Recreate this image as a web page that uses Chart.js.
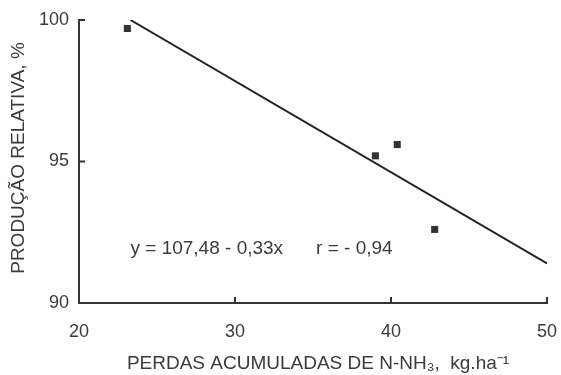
<!DOCTYPE html>
<html>
<head>
<meta charset="utf-8">
<script src="https://cdn.jsdelivr.net/npm/chart.js@4/dist/chart.umd.min.js"></script>
<style>
  html, body { margin: 0; padding: 0; background: #fff; }
  canvas { display: block; }
</style>
</head>
<body>
<canvas id="grafico" width="561" height="375"></canvas>
<script>
// Dados
const perdas = [23.1, 39.0, 40.4, 42.8];
const producao = [99.7, 95.2, 95.6, 92.6];
// reta de regressão (extremos)
const retaX = [23.3, 50];
const retaY = [100, 91.4];
const ticksX = [20, 30, 40, 50];
const ticksY = [90, 95, 100];
const equacao = 'y = 107,48 - 0,33x';
const correlacao = 'r = - 0,94';
const tituloX = 'PERDAS ACUMULADAS DE N-NH₃,  kg.ha⁻¹';
const tituloY = 'PRODUÇÃO RELATIVA, %';

const corTexto = '#3a3a3a';
const fonte = 'Liberation Sans, Arial, sans-serif';

// Marcas dos eixos voltadas para dentro + títulos + equação
const extras = {
  id: 'extras',
  afterDraw(chart) {
    const c = chart.ctx;
    const x = chart.scales.x, y = chart.scales.y;
    c.save();
    c.strokeStyle = '#333';
    c.lineWidth = 2;
    ticksX.forEach(v => {
      const px = x.getPixelForValue(v);
      c.beginPath(); c.moveTo(px, y.bottom); c.lineTo(px, y.bottom - 6); c.stroke();
    });
    ticksY.forEach(v => {
      const py = y.getPixelForValue(v);
      c.beginPath(); c.moveTo(x.left, py); c.lineTo(x.left + 6, py); c.stroke();
    });
    c.fillStyle = corTexto;
    c.textBaseline = 'middle';
    c.font = '19px ' + fonte;
    c.textAlign = 'left';
    c.fillText(equacao, x.getPixelForValue(23.3), y.getPixelForValue(91.9));
    c.fillText(correlacao, x.getPixelForValue(35.2), y.getPixelForValue(91.9));

    c.textAlign = 'center';
    c.fillText(tituloX, 318, 364);
    c.translate(19, 158);
    c.rotate(-Math.PI / 2);
    c.fillText(tituloY, 0, 0);
    c.restore();
  }
};

const ctx = document.getElementById('grafico').getContext('2d');
new Chart(ctx, {
  type: 'scatter',
  data: {
    datasets: [
      {
        data: perdas.map((v, i) => ({ x: v, y: producao[i] })),
        pointStyle: 'rect',
        pointRadius: 5,
        backgroundColor: '#333',
        borderColor: '#333',
        borderWidth: 0
      },
      {
        type: 'line',
        data: retaX.map((v, i) => ({ x: v, y: retaY[i] })),
        borderColor: '#222',
        borderWidth: 2,
        pointRadius: 0,
        fill: false
      }
    ]
  },
  options: {
    responsive: false,
    animation: false,
    layout: { padding: { top: 20, right: 14, left: 0, bottom: 0 } },
    plugins: { legend: { display: false }, tooltip: { enabled: false } },
    scales: {
      x: {
        type: 'linear',
        min: 20, max: 50,
        afterBuildTicks: s => { s.ticks = ticksX.map(v => ({ value: v })); },
        afterFit: s => { s.height = 72; s.paddingLeft = 0; s.paddingRight = 0; },
        grid: { display: false },
        border: { display: true, color: '#333', width: 2 },
        ticks: { color: corTexto, font: { family: fonte, size: 18 }, padding: 10 }
      },
      y: {
        min: 90, max: 100,
        afterBuildTicks: s => { s.ticks = ticksY.map(v => ({ value: v })); },
        afterFit: s => { s.width = 79; s.paddingTop = 0; s.paddingBottom = 0; },
        grid: { display: false },
        border: { display: true, color: '#333', width: 2 },
        ticks: { color: corTexto, font: { family: fonte, size: 18 }, padding: 2 }
      }
    }
  },
  plugins: [extras]
});
</script>
</body>
</html>
